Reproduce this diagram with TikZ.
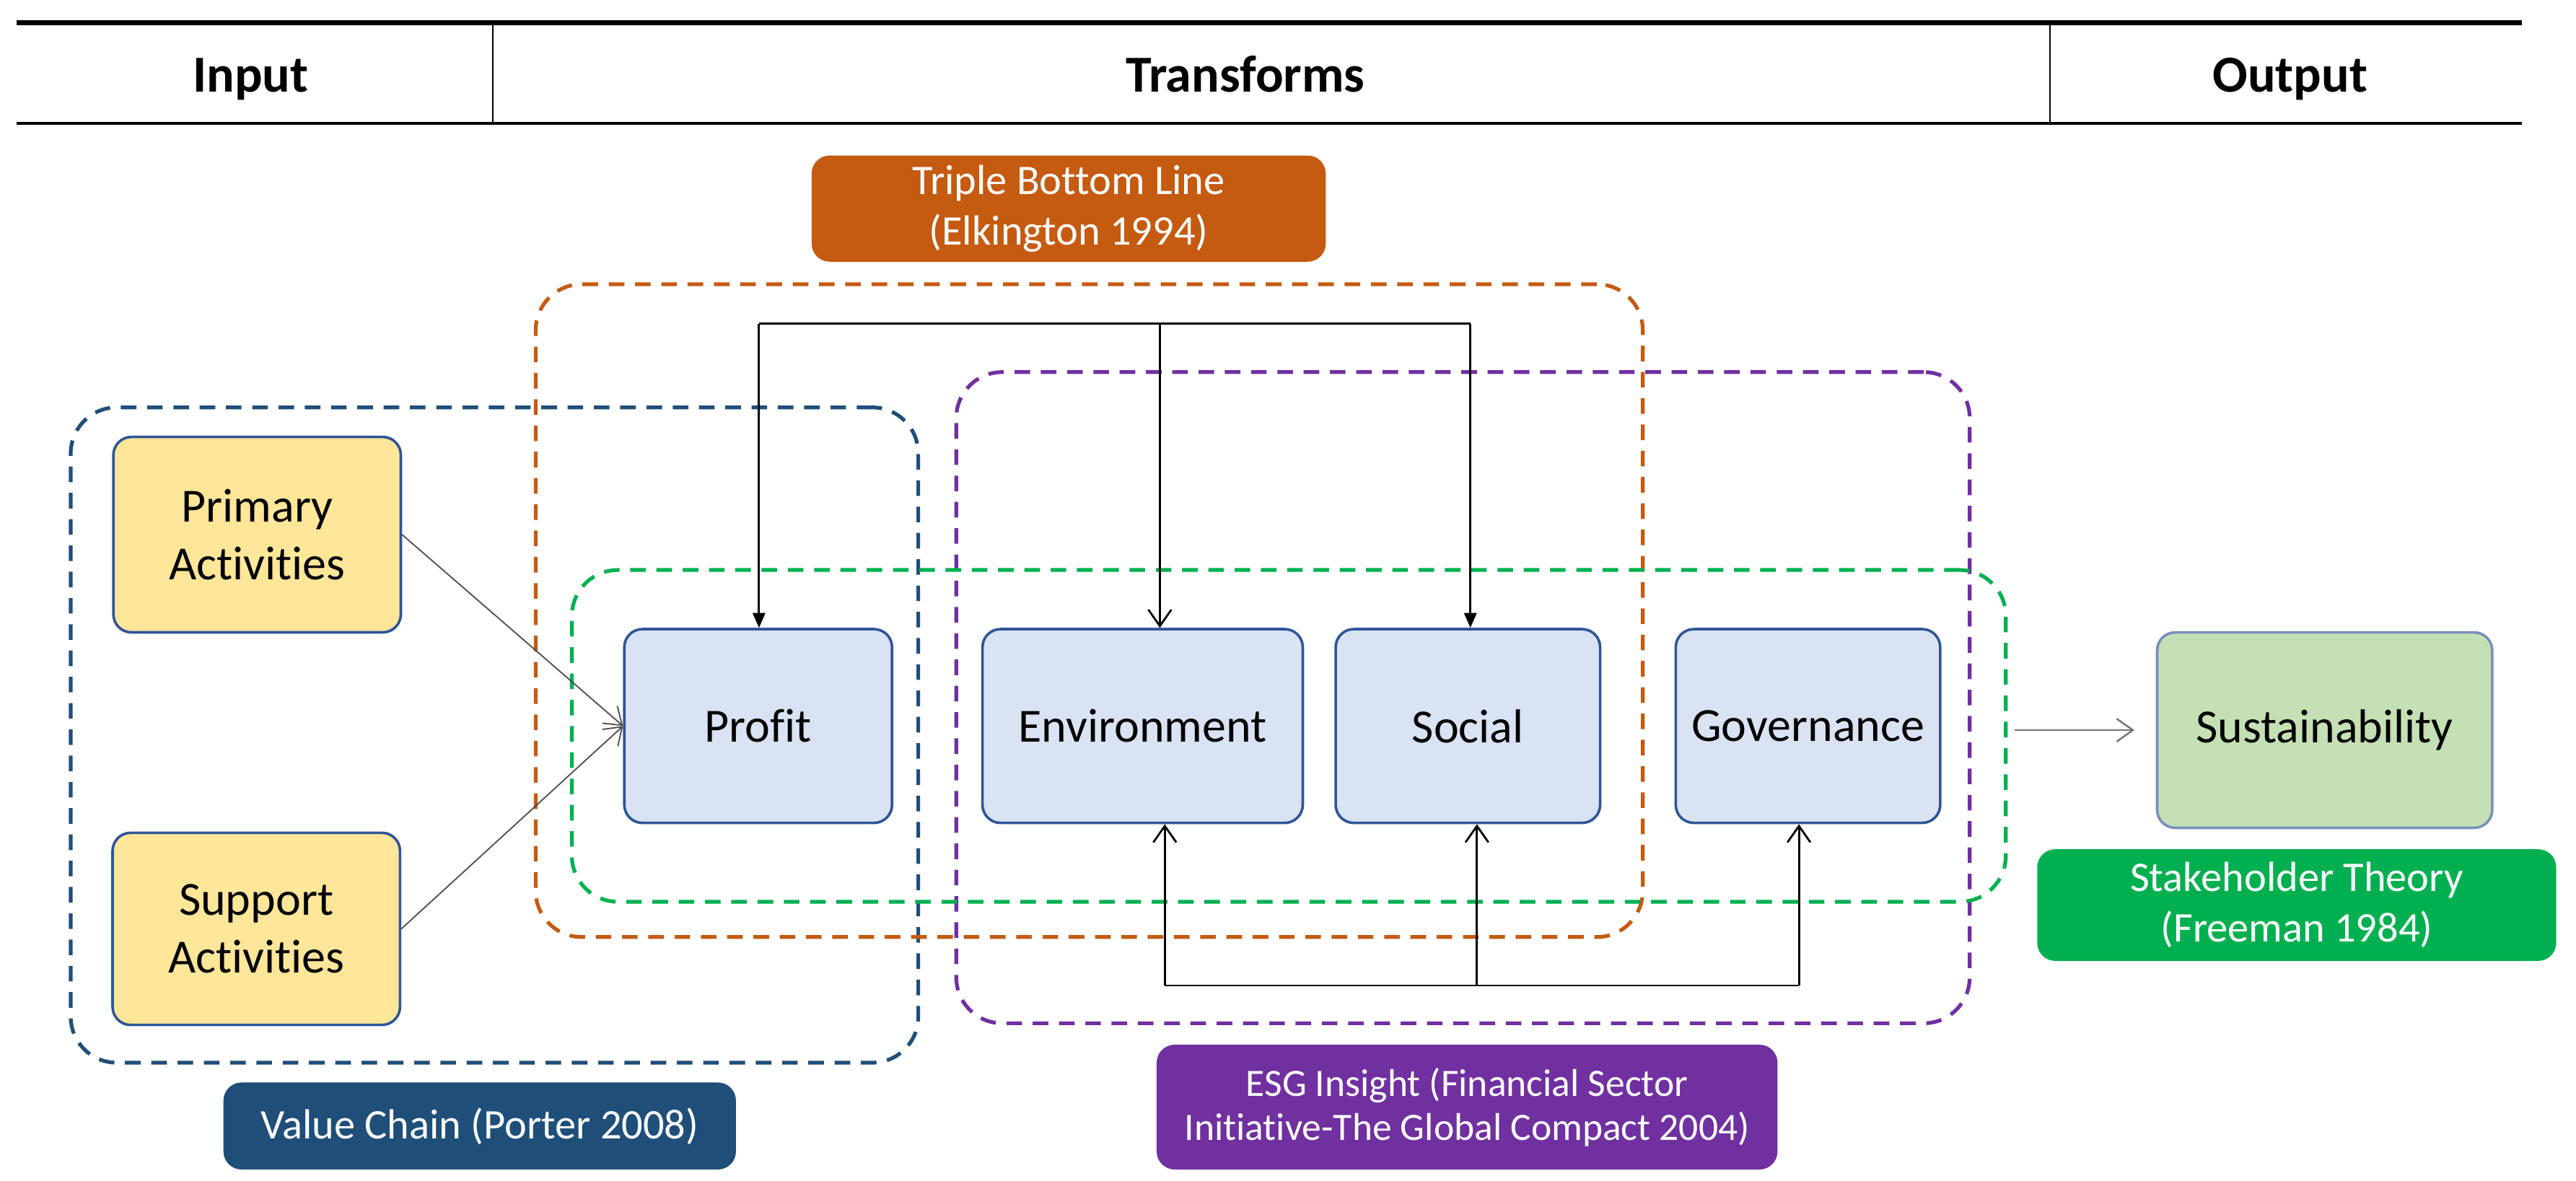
\documentclass[tikz,border=0pt]{standalone}
\usepackage{fontspec}
\setmainfont{Carlito}[Ligatures = NoCommon]
\usetikzlibrary{arrows.meta}

\definecolor{tblorange}{HTML}{C55A11}
\definecolor{vcblue}{HTML}{1F4E79}
\definecolor{esgpurple}{HTML}{7030A0}
\definecolor{stakegreen}{HTML}{00B050}
\definecolor{boxline}{HTML}{2F5597}
\definecolor{actfill}{HTML}{FFE699}
\definecolor{pillarfill}{HTML}{DAE3F3}
\definecolor{sustfill}{HTML}{C5E0B4}

\tikzset{
	block/.style = {draw = boxline, line width = 0.9pt, rounded corners = 0.22cm, align = center, font = \fontsize{16.5}{20}\selectfont, minimum height = 2.36cm},
	zone/.style = {line width = 1.3pt, rounded corners = 0.56cm, dash pattern = on 0.19cm off 0.13cm, inner sep = 0pt},
	tag/.style = {rounded corners = 0.22cm, text = white, align = center, font = \fontsize{14.6}{17.5}\selectfont},
	heading/.style = {anchor = base, font = \fontsize{18}{21}\selectfont\bfseries},
	solidtip/.style = {-{Triangle[length = 0.18cm, width = 0.15cm]}}
}

\begin{document}
\begin{tikzpicture}[x = 0.02cm, y = -0.02cm, > = {Straight Barb[length = 0.2cm, width = 0.28cm]}, line width = 0.7pt]

	\useasboundingbox (0, 0) rectangle (1568, 719);

	% Header
	
		\draw [line width = 1.7pt] (10, 14) -- (1535, 14);
		\draw [line width = 1.1pt] (10, 75) -- (1535, 75);
		\draw [line width = 0.5pt] (300, 14) -- (300, 75);
		\draw [line width = 0.5pt] (1248, 14) -- (1248, 75);
		
		\node (input) [heading] at (152.5, 56) {Input};
		\node (transforms) [heading] at (758, 56) {Transforms};
		\node (output) [heading] at (1394, 56) {Output};
	
	% Dashed zones
	
		\node (valuezone) [zone, draw = vcblue, minimum width = 10.32cm, minimum height = 7.98cm] at (301, 447.5) {};
		\node (tblzone) [zone, draw = tblorange, minimum width = 13.48cm, minimum height = 7.95cm] at (663, 371.75) {};
		\node (esgzone) [zone, draw = esgpurple, minimum width = 12.34cm, minimum height = 7.93cm] at (890.5, 424.75) {};
		\node (stakezone) [zone, draw = stakegreen, minimum width = 17.46cm, minimum height = 4.04cm] at (784.5, 448) {};
	
	% Zone tags
	
		\node (tbltag) [tag, fill = tblorange, minimum width = 6.26cm, minimum height = 1.28cm] at (650.5, 127) {Triple Bottom Line\\(Elkington 1994)};
		\node (valuetag) [tag, fill = vcblue, minimum width = 6.24cm, minimum height = 1.06cm] at (292, 685.5) {Value Chain (Porter 2008)};
		\node (esgtag) [tag, fill = esgpurple, minimum width = 7.56cm, minimum height = 1.52cm, font = \fontsize{13.4}{15.4}\selectfont] at (893, 674) {ESG Insight (Financial Sector\\Initiative-The Global Compact 2004)};
		\node (staketag) [tag, fill = stakegreen, minimum width = 6.32cm, minimum height = 1.36cm] at (1398, 551) {Stakeholder Theory\\(Freeman 1984)};
	
	% Blocks
	
		\node (primary) [block, fill = actfill, minimum width = 3.5cm, minimum height = 2.38cm] at (156.5, 325.5) {Primary\\Activities};
		\node (support) [block, fill = actfill, minimum width = 3.5cm, minimum height = 2.34cm] at (156, 565.5) {Support\\Activities};
		
		\node (profit) [block, fill = pillarfill, minimum width = 3.26cm] at (461.5, 442) {Profit};
		\node (environment) [block, fill = pillarfill, minimum width = 3.9cm] at (695.5, 442) {Environment};
		\node (social) [block, fill = pillarfill, minimum width = 3.22cm] at (893.5, 442) {Social};
		\node (governance) [block, fill = pillarfill, minimum width = 3.22cm] at (1100.5, 442) {Governance};
		
		\node (sustainability) [block, fill = sustfill, draw = boxline!65, minimum width = 4.08cm, minimum height = 2.38cm] at (1415, 444.5) {Sustainability};
	
	% Top bus
	
		\coordinate (topleft) at (462, 197);
		\coordinate (topmid) at (706, 197);
		\coordinate (topright) at (895, 197);
		
		\draw (topleft) -- (topright);
		\draw [solidtip] (topleft) -- (topleft |- profit.north);
		\draw [->] (topmid) -- (topmid |- environment.north);
		\draw [solidtip] (topright) -- (topright |- social.north);
	
	% Bottom bus
	
		\coordinate (botleft) at (709, 600);
		\coordinate (botmid) at (899, 600);
		\coordinate (botright) at (1095, 600);
		
		\draw (botleft) -- (botright);
		
		\begin{scope}[->]
		
			\draw (botleft) -- (botleft |- environment.south);
			\draw (botmid) -- (botmid |- social.south);
			\draw (botright) -- (botright |- governance.south);
		
		\end{scope}
	
	% Activities and output
	
		\begin{scope}[->, line width = 0.45pt, black!70]
		
			\draw (primary.east) -- (profit.west);
			\draw (support.east) -- (profit.west);
		
		\end{scope}
		
		\draw [->, black!55, line width = 0.6pt, shorten < = 0.08cm, shorten > = 0.26cm] (stakezone.east |- sustainability.west) -- (sustainability.west);

\end{tikzpicture}
\end{document}
